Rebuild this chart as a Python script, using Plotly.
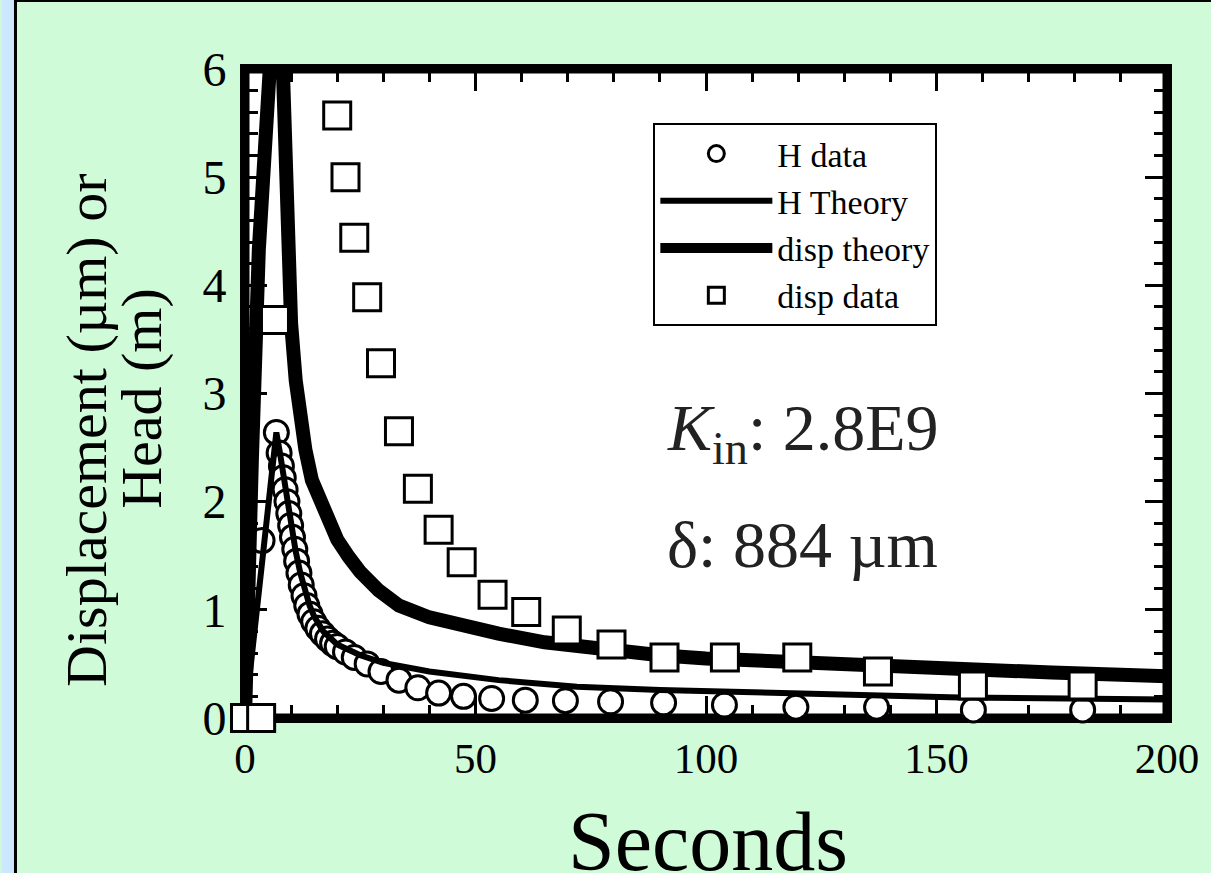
import plotly.graph_objects as go

# ---------------- data ----------------
h_data_t = [0, 3.7, 6.8, 7.4, 7.9, 8.3, 8.7, 9.1, 9.5, 9.9, 10.3, 10.8, 11.2, 11.7, 12.2,
            12.8, 13.4, 14.1, 14.9, 15.8, 16.8, 17.9, 19.0, 20.0, 21.8, 23.7, 26.5, 29.5,
            33.4, 37.5, 42.0, 47.4, 53.5, 60.8, 69.5, 79.3, 90.8, 104.0, 119.5, 137.0,
            158.0, 181.7]
h_data_v = [0, 1.64, 2.64, 2.45, 2.33, 2.22, 2.11, 2.00, 1.89, 1.78, 1.67, 1.56, 1.45, 1.34,
            1.23, 1.13, 1.04, 0.96, 0.89, 0.83, 0.78, 0.73, 0.69, 0.66, 0.61, 0.56, 0.50,
            0.43, 0.35, 0.28, 0.23, 0.20, 0.18, 0.165, 0.16, 0.15, 0.14, 0.12, 0.10, 0.10,
            0.075, 0.075]

h_theory_t = [0, 1, 2, 3, 4, 5, 6, 6.8, 7.5, 8, 9, 10, 11, 12, 13, 14, 15, 17, 20, 25, 30,
              40, 55, 72, 90, 115, 155, 200]
h_theory_v = [0, 0.39, 0.78, 1.17, 1.56, 1.95, 2.34, 2.64, 2.47, 2.33, 2.05, 1.78, 1.54,
              1.34, 1.17, 1.04, 0.94, 0.80, 0.68, 0.58, 0.51, 0.43, 0.35, 0.29, 0.26, 0.23,
              0.19, 0.17]

disp_theory_t = [0, 0.5, 1.5, 3.0, 4.2, 5.4, 8.2, 9.1, 10.0, 11.0, 12.0, 13.1, 14.5, 16.4,
                 18.0, 20.0, 22.5, 25.0, 29.0, 33.4, 40, 47, 55, 65, 76.5, 90, 100, 115,
                 130, 141, 158, 175, 200]
disp_theory_v = [0, 1.1, 2.4, 4.33, 5.3, 6.02, 6.02, 4.33, 3.65, 3.12, 2.78, 2.48, 2.2,
                 1.98, 1.82, 1.65, 1.49, 1.35, 1.18, 1.04, 0.93, 0.85, 0.78, 0.70, 0.63,
                 0.58, 0.55, 0.52, 0.49, 0.47, 0.44, 0.42, 0.385]

disp_data_t = [0, 3.5, 6.5, 20.0, 21.8, 23.7, 26.5, 29.5, 33.4, 37.5, 42.0, 47.0, 53.7,
               61.0, 69.8, 79.5, 91.0, 104.1, 119.8, 137.3, 157.9, 181.7]
disp_data_v = [0, 0, 3.68, 5.57, 5.00, 4.44, 3.89, 3.28, 2.65, 2.12, 1.74, 1.44, 1.14,
               0.98, 0.81, 0.68, 0.56, 0.56, 0.56, 0.43, 0.30, 0.30]

series_names = ["H data", "H Theory", "disp theory", "disp data"]
x_ticks = [0, 50, 100, 150, 200]
y_ticks = [0, 1, 2, 3, 4, 5, 6]

# ---------------- style ----------------
SERIF = "Liberation Serif, Times New Roman, serif"
GREEN = "#CFFBD9"
BLUE = "#CCE8FF"

fig = go.Figure()

fig.add_trace(go.Scatter(
    x=h_data_t, y=h_data_v, name=series_names[0], mode="markers",
    marker=dict(symbol="circle", size=24, color="white",
                line=dict(color="black", width=3)),
    cliponaxis=False))
fig.add_trace(go.Scatter(
    x=h_theory_t, y=h_theory_v, name=series_names[1], mode="lines",
    line=dict(color="black", width=6)))
fig.add_trace(go.Scatter(
    x=disp_theory_t, y=disp_theory_v, name=series_names[2], mode="lines",
    line=dict(color="black", width=14)))
fig.add_trace(go.Scatter(
    x=disp_data_t, y=disp_data_v, name=series_names[3], mode="markers",
    marker=dict(symbol="square", size=27, color="white",
                line=dict(color="black", width=3)),
    cliponaxis=False))

axis_common = dict(
    ticks="inside", tickcolor="black", tickwidth=3, mirror="ticks",
    showgrid=False, zeroline=False, showline=True, linecolor="black", linewidth=5,
    layer="below traces",
)

fig.update_xaxes(range=[0, 200], tickvals=x_ticks, ticklen=22,
                 minor=dict(dtick=10, ticks="inside", ticklen=13, tickwidth=3,
                            tickcolor="black"),
                 ticklabelstandoff=-2,
                 tickfont=dict(size=43, family=SERIF, color="black"),
                 **axis_common)
fig.update_yaxes(range=[0, 6], tickvals=y_ticks, ticklen=22,
                 minor=dict(dtick=0.2, ticks="inside", ticklen=13, tickwidth=3,
                            tickcolor="black"),
                 ticklabelstandoff=4,
                 tickfont=dict(size=48, family=SERIF, color="black"),
                 **axis_common)

shapes = [
    # light blue strip at far left
    dict(type="rect", xref="paper", yref="paper", x0=-245 / 928, x1=-231 / 928,
         y0=-0.5, y1=1.5, fillcolor=BLUE, line=dict(width=0), layer="below"),
    dict(type="line", xref="paper", yref="paper", x0=-231 / 928, x1=-231 / 928,
         y0=-0.5, y1=69 / 649 + 1, line=dict(color="black", width=3), layer="below"),
    dict(type="line", xref="paper", yref="paper", x0=-231 / 928, x1=1.2,
         y0=1 + 68 / 649, y1=1 + 68 / 649, line=dict(color="black", width=2),
         layer="below"),
    # thick frame around the plot area (inner half; outer half is the axis line)
    dict(type="rect", xref="x", yref="y", x0=0, x1=200, y0=0, y1=6,
         line=dict(color="black", width=9), layer="below"),
]

annotations = [
    dict(text="<i>K</i><sub>in</sub>: 2.8E9", x=91.2, y=2.64, xref="x", yref="y",
         xanchor="left", yanchor="middle", showarrow=False,
         font=dict(family=SERIF, size=66, color="#222222")),
    dict(text="δ: 884 µm", x=91.2, y=1.6, xref="x", yref="y",
         xanchor="left", yanchor="middle", showarrow=False,
         font=dict(family=SERIF, size=66, color="#222222")),
    dict(text="Displacement (µm) or", x=-0.172, y=0.443, xref="paper", yref="paper",
         xanchor="center", yanchor="middle", textangle=-90, showarrow=False,
         font=dict(family=SERIF, size=58, color="black")),
    dict(text="Head (m)", x=-0.113, y=0.493, xref="paper", yref="paper",
         xanchor="center", yanchor="middle", textangle=-90, showarrow=False,
         font=dict(family=SERIF, size=58, color="black")),
    dict(text="Seconds", x=0.502, y=-0.19, xref="paper", yref="paper",
         xanchor="center", yanchor="middle", showarrow=False,
         font=dict(family=SERIF, size=84, color="black")),
]

fig.update_layout(
    width=1211, height=873,
    margin=dict(l=245, r=38, t=69, b=155),
    paper_bgcolor=GREEN, plot_bgcolor="white",
    shapes=shapes, annotations=annotations,
    showlegend=True,
    legend=dict(x=(656 - 245) / 928, y=(718 - 123) / 649, xanchor="left", yanchor="top",
                bgcolor="white", bordercolor="black", borderwidth=2,
                font=dict(family=SERIF, size=34, color="black"),
                itemwidth=112, tracegroupgap=0),
)

fig.write_html("out.html")
